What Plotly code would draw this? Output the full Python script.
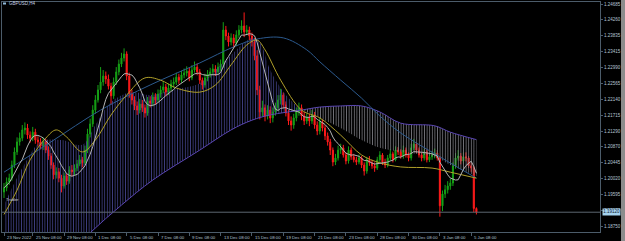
import plotly.graph_objects as go
import pandas as pd

# ---------------- data ----------------
trading_days = ["2022-11-23", "2022-11-24", "2022-11-25", "2022-11-28", "2022-11-29", "2022-11-30",
                "2022-12-01", "2022-12-02", "2022-12-05", "2022-12-06", "2022-12-07", "2022-12-08",
                "2022-12-09", "2022-12-12", "2022-12-13", "2022-12-14", "2022-12-15", "2022-12-16",
                "2022-12-19", "2022-12-20", "2022-12-21", "2022-12-22", "2022-12-23", "2022-12-27",
                "2022-12-28", "2022-12-29", "2022-12-30", "2023-01-02", "2023-01-03", "2023-01-04",
                "2023-01-05"]
first_day_hours = [12, 16, 20]
full_day_hours = [0, 4, 8, 12, 16, 20]
last_day_hours = [0, 4, 8, 12, 16]

opens = [
    1.1966, 1.1977, 1.1993,
    1.2003, 1.2038, 1.2073, 1.2100, 1.2110, 1.2132,
    1.2137, 1.2118, 1.2110, 1.2126, 1.2105, 1.2100,
    1.2089, 1.2100, 1.2078, 1.2062, 1.2038, 1.2012,
    1.2020, 1.2003, 1.1982, 1.2009, 1.1995, 1.2025,
    1.2020, 1.2030, 1.2041, 1.2052, 1.2044, 1.2078,
    1.2121, 1.2148, 1.2185, 1.2212, 1.2239, 1.2260,
    1.2276, 1.2268, 1.2249, 1.2223, 1.2260, 1.2287,
    1.2308, 1.2324, 1.2335, 1.2276, 1.2228, 1.2212,
    1.2196, 1.2185, 1.2201, 1.2191, 1.2177, 1.2209,
    1.2204, 1.2220, 1.2212, 1.2228, 1.2239, 1.2247,
    1.2233, 1.2244, 1.2255, 1.2260, 1.2273, 1.2265,
    1.2279, 1.2284, 1.2289, 1.2271, 1.2292, 1.2300,
    1.2287, 1.2265, 1.2252, 1.2271, 1.2281, 1.2287,
    1.2295, 1.2287, 1.2300, 1.2308, 1.2399, 1.2383,
    1.2367, 1.2378, 1.2364, 1.2386, 1.2399, 1.2410,
    1.2394, 1.2399, 1.2383, 1.2367, 1.2330, 1.2239,
    1.2180, 1.2191, 1.2169, 1.2185, 1.2164, 1.2180,
    1.2191, 1.2212, 1.2225, 1.2199, 1.2177, 1.2156,
    1.2145, 1.2164, 1.2180, 1.2191, 1.2169, 1.2156,
    1.2164, 1.2156, 1.2172, 1.2145, 1.2129, 1.2153,
    1.2137, 1.2116, 1.2100, 1.2078, 1.2046, 1.2057,
    1.2078, 1.2084, 1.2065, 1.2049, 1.2078, 1.2060,
    1.2052, 1.2046, 1.2057, 1.2038, 1.2022, 1.2052,
    1.2044, 1.2036, 1.2030, 1.2052, 1.2065, 1.2046,
    1.2038, 1.2057, 1.2068, 1.2052, 1.2078, 1.2073,
    1.2062, 1.2078, 1.2065, 1.2057, 1.2084, 1.2094,
    1.2078, 1.2065, 1.2057, 1.2073, 1.2052, 1.2060,
    1.2065, 1.2070, 1.2057, 1.1929, 1.1961, 1.1972,
    1.1982, 1.1990, 1.2036, 1.2057, 1.2062, 1.2049,
    1.2060, 1.2057, 1.2036, 1.2030, 1.1922,
]
highs = [
    1.1990, 1.2005, 1.2015,
    1.2050, 1.2085, 1.2112, 1.2125, 1.2145, 1.2152,
    1.2148, 1.2128, 1.2140, 1.2135, 1.2115, 1.2110,
    1.2112, 1.2108, 1.2088, 1.2070, 1.2045, 1.2032,
    1.2030, 1.2012, 1.2018, 1.2015, 1.2035, 1.2038,
    1.2040, 1.2052, 1.2065, 1.2060, 1.2090, 1.2135,
    1.2162, 1.2198, 1.2225, 1.2252, 1.2300, 1.2292,
    1.2288, 1.2280, 1.2258, 1.2272, 1.2300, 1.2320,
    1.2338, 1.2350, 1.2342, 1.2285, 1.2240, 1.2222,
    1.2208, 1.2215, 1.2212, 1.2200, 1.2220, 1.2222,
    1.2232, 1.2230, 1.2240, 1.2250, 1.2262, 1.2255,
    1.2256, 1.2266, 1.2272, 1.2285, 1.2282, 1.2290,
    1.2296, 1.2302, 1.2298, 1.2305, 1.2315, 1.2310,
    1.2295, 1.2272, 1.2282, 1.2292, 1.2298, 1.2308,
    1.2305, 1.2312, 1.2320, 1.2420, 1.2410, 1.2392,
    1.2390, 1.2388, 1.2398, 1.2412, 1.2425, 1.2446,
    1.2412, 1.2408, 1.2392, 1.2378, 1.2345, 1.2250,
    1.2210, 1.2200, 1.2198, 1.2195, 1.2192, 1.2205,
    1.2225, 1.2242, 1.2232, 1.2208, 1.2185, 1.2168,
    1.2175, 1.2192, 1.2205, 1.2200, 1.2180, 1.2176,
    1.2175, 1.2185, 1.2180, 1.2155, 1.2165, 1.2160,
    1.2145, 1.2125, 1.2108, 1.2085, 1.2068, 1.2090,
    1.2095, 1.2092, 1.2072, 1.2088, 1.2085, 1.2068,
    1.2060, 1.2066, 1.2062, 1.2045, 1.2060, 1.2062,
    1.2052, 1.2045, 1.2060, 1.2075, 1.2070, 1.2055,
    1.2065, 1.2080, 1.2074, 1.2088, 1.2086, 1.2080,
    1.2090, 1.2085, 1.2072, 1.2095, 1.2108, 1.2100,
    1.2085, 1.2072, 1.2082, 1.2080, 1.2070, 1.2075,
    1.2082, 1.2078, 1.2062, 1.1970, 1.1985, 1.1995,
    1.2002, 1.2045, 1.2070, 1.2078, 1.2070, 1.2072,
    1.2072, 1.2062, 1.2045, 1.2035, 1.1925,
]
lows = [
    1.1950, 1.1968, 1.1985,
    1.1996, 1.2030, 1.2065, 1.2090, 1.2102, 1.2120,
    1.2108, 1.2098, 1.2102, 1.2095, 1.2088, 1.2080,
    1.2078, 1.2070, 1.2052, 1.2028, 1.2000, 1.2002,
    1.1992, 1.1965, 1.1975, 1.1985, 1.1988, 1.2008,
    1.2010, 1.2022, 1.2035, 1.2032, 1.2038, 1.2070,
    1.2112, 1.2140, 1.2175, 1.2205, 1.2230, 1.2250,
    1.2255, 1.2240, 1.2200, 1.2215, 1.2252, 1.2278,
    1.2300, 1.2315, 1.2265, 1.2218, 1.2200, 1.2185,
    1.2172, 1.2176, 1.2180, 1.2165, 1.2170, 1.2192,
    1.2195, 1.2200, 1.2205, 1.2218, 1.2230, 1.2222,
    1.2225, 1.2236, 1.2245, 1.2252, 1.2255, 1.2258,
    1.2270, 1.2275, 1.2262, 1.2265, 1.2285, 1.2278,
    1.2255, 1.2240, 1.2245, 1.2262, 1.2272, 1.2278,
    1.2276, 1.2280, 1.2290, 1.2298, 1.2372, 1.2355,
    1.2358, 1.2352, 1.2356, 1.2378, 1.2390, 1.2380,
    1.2385, 1.2372, 1.2355, 1.2318, 1.2225, 1.2160,
    1.2168, 1.2155, 1.2160, 1.2150, 1.2152, 1.2170,
    1.2182, 1.2200, 1.2190, 1.2168, 1.2145, 1.2130,
    1.2135, 1.2155, 1.2170, 1.2158, 1.2145, 1.2148,
    1.2142, 1.2148, 1.2135, 1.2118, 1.2120, 1.2128,
    1.2105, 1.2090, 1.2065, 1.2035, 1.2038, 1.2050,
    1.2068, 1.2058, 1.2040, 1.2042, 1.2052, 1.2045,
    1.2038, 1.2040, 1.2030, 1.2010, 1.2015, 1.2036,
    1.2028, 1.2020, 1.2025, 1.2045, 1.2038, 1.2030,
    1.2032, 1.2050, 1.2045, 1.2048, 1.2065, 1.2055,
    1.2055, 1.2058, 1.2048, 1.2050, 1.2078, 1.2070,
    1.2058, 1.2048, 1.2050, 1.2045, 1.2046, 1.2052,
    1.2056, 1.2050, 1.1900, 1.1915, 1.1950, 1.1962,
    1.1972, 1.1982, 1.2028, 1.2050, 1.2040, 1.2042,
    1.2048, 1.2030, 1.2020, 1.1912, 1.1906,
]
closes = [
    1.1977, 1.1993, 1.2003,
    1.2038, 1.2073, 1.2100, 1.2110, 1.2132, 1.2137,
    1.2118, 1.2110, 1.2126, 1.2105, 1.2100, 1.2089,
    1.2100, 1.2078, 1.2062, 1.2038, 1.2012, 1.2020,
    1.2003, 1.1982, 1.2009, 1.1995, 1.2025, 1.2020,
    1.2030, 1.2041, 1.2052, 1.2044, 1.2078, 1.2121,
    1.2148, 1.2185, 1.2212, 1.2239, 1.2260, 1.2276,
    1.2268, 1.2249, 1.2223, 1.2260, 1.2287, 1.2308,
    1.2324, 1.2335, 1.2276, 1.2228, 1.2212, 1.2196,
    1.2185, 1.2201, 1.2191, 1.2177, 1.2209, 1.2204,
    1.2220, 1.2212, 1.2228, 1.2239, 1.2247, 1.2233,
    1.2244, 1.2255, 1.2260, 1.2273, 1.2265, 1.2279,
    1.2284, 1.2289, 1.2271, 1.2292, 1.2300, 1.2287,
    1.2265, 1.2252, 1.2271, 1.2281, 1.2287, 1.2295,
    1.2287, 1.2300, 1.2308, 1.2399, 1.2383, 1.2367,
    1.2378, 1.2364, 1.2386, 1.2399, 1.2410, 1.2394,
    1.2399, 1.2383, 1.2367, 1.2330, 1.2239, 1.2180,
    1.2191, 1.2169, 1.2185, 1.2164, 1.2180, 1.2191,
    1.2212, 1.2225, 1.2199, 1.2177, 1.2156, 1.2145,
    1.2164, 1.2180, 1.2191, 1.2169, 1.2156, 1.2164,
    1.2156, 1.2172, 1.2145, 1.2129, 1.2153, 1.2137,
    1.2116, 1.2100, 1.2078, 1.2046, 1.2057, 1.2078,
    1.2084, 1.2065, 1.2049, 1.2078, 1.2060, 1.2052,
    1.2046, 1.2057, 1.2038, 1.2022, 1.2052, 1.2044,
    1.2036, 1.2030, 1.2052, 1.2065, 1.2046, 1.2038,
    1.2057, 1.2068, 1.2052, 1.2078, 1.2073, 1.2062,
    1.2078, 1.2065, 1.2057, 1.2084, 1.2094, 1.2078,
    1.2065, 1.2057, 1.2073, 1.2052, 1.2060, 1.2065,
    1.2070, 1.2057, 1.1929, 1.1961, 1.1972, 1.1982,
    1.1990, 1.2036, 1.2057, 1.2062, 1.2049, 1.2060,
    1.2057, 1.2036, 1.2030, 1.1922, 1.1912,
]

# indicator lines (bar index, price)
yellow_idx = [0, 5, 10, 16, 20, 24, 30, 35, 41, 47, 54, 60, 66, 75, 81, 87, 93, 97, 100, 106,
              114, 121, 129, 137, 144, 152, 164, 171, 181]
yellow_val = [1.1906, 1.1971, 1.2052, 1.2110, 1.2132, 1.2113, 1.2073, 1.2105, 1.2172, 1.2225,
              1.2271, 1.2265, 1.2244, 1.2233, 1.2252, 1.2306, 1.2359, 1.2372, 1.2346, 1.2265,
              1.2185, 1.2164, 1.2118, 1.2065, 1.2044, 1.2033, 1.2030, 1.2019, 1.2003]
blue_idx = [0, 18, 37, 56, 75, 88, 97, 107, 116, 121, 129, 137, 144, 152, 167, 181]
blue_val = [1.2019, 1.2100, 1.2185, 1.2252, 1.2311, 1.2354, 1.2375, 1.2378, 1.2346, 1.2314,
            1.2265, 1.2217, 1.2169, 1.2124, 1.2060, 1.2003]
span_a_idx = [0, 7, 14, 22, 30, 35, 41, 49, 56, 64, 75, 85, 95, 98, 102, 108, 114,
              121, 129, 137, 144, 152, 165, 171, 181]
span_a_val = [1.1931, 1.2030, 1.2100, 1.2105, 1.2092, 1.2145, 1.2206, 1.2233, 1.2225, 1.2239,
              1.2257, 1.2319, 1.2378, 1.2367, 1.2292, 1.2225, 1.2185,
              1.2164, 1.2137, 1.2105, 1.2084, 1.2073, 1.2060, 1.2038, 1.2009]
span_b_idx = [0, 22, 33, 45, 57, 75, 87, 95, 102, 114, 121, 129, 137, 144, 152, 165, 171, 181]
span_b_val = [1.1677, 1.1779, 1.1857, 1.1931, 1.1998, 1.2078, 1.2132, 1.2158, 1.2172, 1.2185,
              1.2193, 1.2196, 1.2196, 1.2180, 1.2150, 1.2143, 1.2126, 1.2106]
cloud_twist_idx = 114

price_ticks = [1.24685, 1.24260, 1.23835, 1.23415, 1.22990, 1.22565, 1.22140, 1.21715,
               1.21290, 1.20870, 1.20445, 1.20020, 1.19595, 1.19170, 1.18750]
time_tick_keys = ["2022-11-23 12:00", "2022-11-25 08:00", "2022-11-29 08:00", "2022-12-01 08:00",
                  "2022-12-05 08:00", "2022-12-07 08:00", "2022-12-09 08:00", "2022-12-13 08:00",
                  "2022-12-15 08:00", "2022-12-19 08:00", "2022-12-21 08:00", "2022-12-23 08:00",
                  "2022-12-28 08:00", "2022-12-30 08:00", "2023-01-03 08:00", "2023-01-05 08:00"]
time_tick_text = ["23 Nov 2022", "25 Nov 08:00", "29 Nov 08:00", "1 Dec 08:00", "5 Dec 08:00",
                  "7 Dec 08:00", "9 Dec 08:00", "13 Dec 08:00", "15 Dec 08:00", "19 Dec 08:00",
                  "21 Dec 08:00", "23 Dec 08:00", "28 Dec 08:00", "30 Dec 08:00", "3 Jan 08:00",
                  "5 Jan 08:00"]
symbol_title = "GBPUSD,H4"
object_label = "Trader"

# ---------------- build ----------------
times = []
for k, d in enumerate(trading_days):
    hrs = first_day_hours if k == 0 else (last_day_hours if k == len(trading_days) - 1 else full_day_hours)
    for h in hrs:
        times.append(f"{d} {h:02d}:00")
bars = list(range(len(times)))
tick_idx = [times.index(t) for t in time_tick_keys]

gray_ma = pd.Series(closes).rolling(8, min_periods=1).mean().tolist()


def seg(idx, val, left):
    pts = [(i, v) for i, v in zip(idx, val) if (i <= cloud_twist_idx if left else i >= cloud_twist_idx)]
    return [p[0] for p in pts], [p[1] for p in pts]


fig = go.Figure()
# hatched cloud
for left, col in [(True, "#44448c"), (False, "#7c7c82")]:
    bx, by = seg(span_b_idx, span_b_val, left)
    ax, ay = seg(span_a_idx, span_a_val, left)
    fig.add_trace(go.Scatter(x=bx, y=by, mode="lines", line=dict(width=0, shape="spline"),
                             hoverinfo="skip"))
    fig.add_trace(go.Scatter(x=ax, y=ay, mode="lines", line=dict(width=0, shape="spline"),
                             fill="tonexty", fillcolor="rgba(0,0,0,0)",
                             fillpattern=dict(shape="|", size=2.6, solidity=0.3, fgcolor=col,
                                              bgcolor="rgba(0,0,0,0)", fillmode="replace"),
                             hoverinfo="skip"))

fig.add_trace(go.Candlestick(
    x=bars, open=opens, high=highs, low=lows, close=closes,
    increasing=dict(line=dict(color="#16a016", width=1), fillcolor="#16a016"),
    decreasing=dict(line=dict(color="#ff1a1a", width=1), fillcolor="#ff1a1a"),
    whiskerwidth=0))

fig.add_trace(go.Scatter(x=span_b_idx, y=span_b_val, mode="lines",
                         line=dict(color="#5a46b4", width=1, shape="spline")))
fig.add_trace(go.Scatter(x=blue_idx, y=blue_val, mode="lines",
                         line=dict(color="#2c5a8e", width=1, shape="spline")))
fig.add_trace(go.Scatter(x=yellow_idx, y=yellow_val, mode="lines",
                         line=dict(color="#b0a02a", width=1, shape="spline")))
fig.add_trace(go.Scatter(x=bars, y=gray_ma, mode="lines",
                         line=dict(color="#b4b4b4", width=1)))

# ---------------- layout ----------------
W, H = 625, 241
L, R, T, B = 2, 25, 2, 9
pw, ph = W - L - R, H - T - B
bar_px = 2.61
x0 = -0.77
y_top, y_bot = 1.24739, 1.18591
axis_col = "#4c5c6a"
txt_col = "#b4c4d4"
tick_font = dict(family="Liberation Sans", size=4.5, color=txt_col)

annotations = []
for i, t in zip(tick_idx, time_tick_text):
    annotations.append(dict(x=i, xref="x", y=0, yref="paper", yanchor="top", xanchor="left",
                            xshift=1, yshift=-0.5, text=t, showarrow=False,
                            font=dict(family="Liberation Sans", size=4.3, color=txt_col)))
annotations.append(dict(x=(7 - L) / pw, xref="paper", y=(H - B - 3.5) / ph, yref="paper",
                        xanchor="left", yanchor="middle", text=symbol_title, showarrow=False,
                        font=dict(family="Liberation Sans", size=4.5, color="#c0d0e0")))
annotations.append(dict(x=(4 - L) / pw, xref="paper", y=(H - B - 199.5) / ph, yref="paper",
                        xanchor="left", yanchor="middle", text=object_label, showarrow=False,
                        font=dict(family="Liberation Sans", size=4.3, color="#c8d0d8")))
last_price = closes[-1]
annotations.append(dict(x=1, xref="paper", y=last_price, yref="y", xanchor="left", yanchor="middle",
                        xshift=1.5, text=f"{last_price:.5f}", showarrow=False, bgcolor="#a4d2ee",
                        borderpad=0.3, font=dict(family="Liberation Sans", size=4.5, color="#102030")))

shapes = [
    dict(type="line", xref="paper", x0=0, x1=1, yref="y", y0=last_price, y1=last_price,
         line=dict(color="#5c6670", width=1)),
    dict(type="rect", xref="paper", yref="paper", x0=(621 - L) / pw, x1=(626 - L) / pw,
         y0=-B / ph, y1=(H - B) / ph, fillcolor="#8c8c8c", line=dict(width=0)),
    dict(type="rect", xref="paper", yref="paper", x0=(3 - L) / pw, x1=(6 - L) / pw,
         y0=(H - B - 4.5) / ph, y1=(H - B - 2.5) / ph, fillcolor="#8fb8d8", line=dict(width=0)),
]

fig.update_layout(
    width=W, height=H, margin=dict(l=L, r=R, t=T, b=B),
    paper_bgcolor="#000000", plot_bgcolor="#000000", showlegend=False,
    boxgap=0.42,
    xaxis=dict(range=[x0, x0 + pw / bar_px], showgrid=False, zeroline=False, showline=True,
               linecolor=axis_col, linewidth=1, mirror=True, ticks="outside", ticklen=3,
               tickcolor=axis_col, tickvals=tick_idx, showticklabels=False,
               rangeslider=dict(visible=False), fixedrange=True),
    yaxis=dict(range=[y_bot, y_top], side="right", showgrid=False, zeroline=False, showline=True,
               linecolor=axis_col, linewidth=1, mirror=True, ticks="outside", ticklen=2,
               tickcolor=axis_col, tickvals=price_ticks,
               ticktext=[f"{v:.5f}" for v in price_ticks], tickfont=tick_font, fixedrange=True),
    annotations=annotations, shapes=shapes,
)

fig.write_html("out.html")
